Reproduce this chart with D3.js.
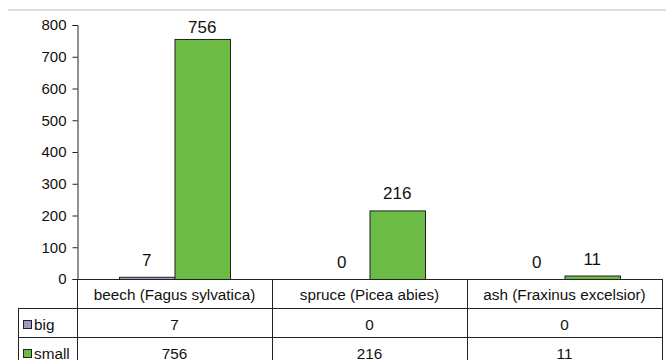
<!DOCTYPE html>
<html>
<head>
<meta charset="utf-8">
<script src="https://cdn.jsdelivr.net/npm/d3@7"></script>
<style>
  html, body { margin: 0; padding: 0; background: #fff; }
  svg { display: block; font-family: "Liberation Sans", Arial, sans-serif; }
</style>
</head>
<body>
<svg id="chart" width="666" height="360"></svg>
<script>
// Tree species and counts of big / small individuals
const categories = ["beech (Fagus sylvatica)", "spruce (Picea abies)", "ash (Fraxinus excelsior)"];
const seriesNames = ["big", "small"];
const bigValues = [7, 0, 0];
const smallValues = [756, 216, 11];
const yTicks = [0, 100, 200, 300, 400, 500, 600, 700, 800];
const seriesColors = ["#9999cc", "#6cbb45"];

const seriesValues = [bigValues, smallValues];

const svg = d3.select("#chart");

const plot = { left: 77, right: 662, top: 25, bottom: 279 };
const rowH = 29;
const tableLeft = 18;

// top rule
svg.append("line")
  .attr("x1", 8).attr("x2", 666).attr("y1", 10).attr("y2", 10)
  .attr("stroke", "#d0d0d0").attr("stroke-width", 1.5);

const y = d3.scaleLinear().domain([0, 800]).range([plot.bottom, plot.top]);
const x0 = d3.scaleBand().domain(categories).range([plot.left, plot.right]).padding(0);
const x1 = d3.scaleBand().domain(seriesNames).range([0, x0.bandwidth()])
  .paddingInner(0).paddingOuter(0.757);

// y axis
const yAxis = d3.axisLeft(y).tickValues(yTicks).tickSize(5).tickPadding(6);
const gy = svg.append("g").attr("transform", `translate(${plot.left + 0.5},0)`).call(yAxis);
gy.select(".domain").attr("stroke", "#222");
gy.selectAll(".tick line").attr("stroke", "#222");
gy.selectAll(".tick text").attr("font-size", 15).attr("fill", "#111")
  .attr("font-family", "Liberation Sans, Arial, sans-serif");

// bars
const barData = [];
categories.forEach((c, i) => {
  seriesNames.forEach((s, j) => {
    barData.push({ cat: c, series: s, value: seriesValues[j][i], color: seriesColors[j] });
  });
});

svg.append("g").selectAll("rect")
  .data(barData.filter(d => d.value > 0))
  .join("rect")
  .attr("x", d => x0(d.cat) + x1(d.series) + 0.5)
  .attr("y", d => y(d.value) + 0.5)
  .attr("width", x1.bandwidth())
  .attr("height", d => Math.max(0, y(0) - y(d.value)))
  .attr("fill", d => d.color)
  .attr("stroke", "#222")
  .attr("stroke-width", 1);

// value labels
svg.append("g").selectAll("text")
  .data(barData)
  .join("text")
  .attr("x", d => x0(d.cat) + x1(d.series) + x1.bandwidth() / 2)
  .attr("y", d => Math.max(y(d.value) - 11, 33))
  .attr("text-anchor", "middle")
  .attr("font-size", 17)
  .attr("fill", "#111")
  .text(d => d.value);

// data table
const table = svg.append("g").attr("stroke", "#222").attr("stroke-width", 1).attr("fill", "none");
const rowTops = [plot.bottom, plot.bottom + rowH, plot.bottom + 2 * rowH];
// x axis / header top
table.append("line").attr("x1", plot.left).attr("x2", plot.right + 0.5)
  .attr("y1", rowTops[0] + 0.5).attr("y2", rowTops[0] + 0.5);
[1, 2].forEach(r => {
  table.append("line").attr("x1", tableLeft).attr("x2", plot.right + 0.5)
    .attr("y1", rowTops[r] + 0.5).attr("y2", rowTops[r] + 0.5);
});
// vertical lines
table.append("line").attr("x1", tableLeft + 0.5).attr("x2", tableLeft + 0.5)
  .attr("y1", rowTops[1]).attr("y2", 360);
const vxs = [plot.left, ...categories.map(c => x0(c) + x0.bandwidth())];
vxs.forEach(vx => {
  table.append("line").attr("x1", vx + 0.5).attr("x2", vx + 0.5)
    .attr("y1", rowTops[0]).attr("y2", 360);
});

const tableText = svg.append("g").attr("font-size", 15.3).attr("fill", "#111");
// header row: category names
tableText.selectAll("text.cat")
  .data(categories)
  .join("text")
  .attr("class", "cat")
  .attr("x", d => x0(d) + x0.bandwidth() / 2)
  .attr("y", rowTops[0] + 21)
  .attr("text-anchor", "middle")
  .text(d => d);

// series rows
seriesNames.forEach((s, j) => {
  const top = rowTops[j + 1];
  svg.append("rect")
    .attr("x", tableLeft + 5.5).attr("y", top + 12.5)
    .attr("width", 8).attr("height", 8)
    .attr("fill", seriesColors[j]).attr("stroke", "#222");
  tableText.append("text")
    .attr("x", tableLeft + 16).attr("y", top + 22)
    .text(s);
  tableText.selectAll(null)
    .data(seriesValues[j])
    .join("text")
    .attr("x", (d, i) => x0(categories[i]) + x0.bandwidth() / 2)
    .attr("y", top + 22)
    .attr("text-anchor", "middle")
    .text(d => d);
});
</script>
</body>
</html>
